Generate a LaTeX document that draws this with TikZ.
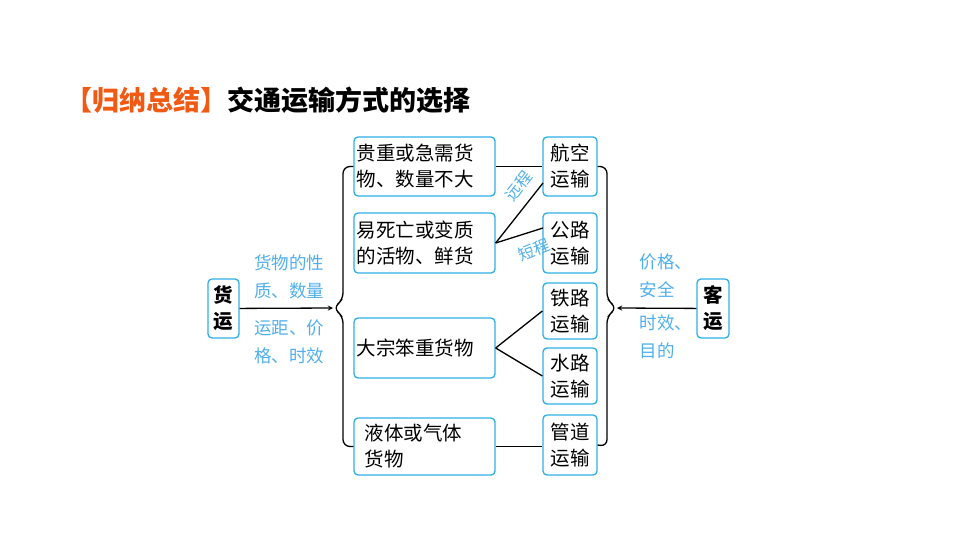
\documentclass[tikz,border=0pt]{standalone}
\usepackage{fontspec}
\setmainfont{Noto Sans CJK SC}
\usetikzlibrary{positioning}
\definecolor{boxline}{RGB}{45,175,230}
\definecolor{notecol}{RGB}{80,175,235}
\definecolor{titleor}{RGB}{240,90,20}

\begin{document}
\begin{tikzpicture}[x=1pt,y=-1pt,
    box/.style={draw=boxline, line width=1.3pt, rounded corners=4pt, align=left, inner sep=1pt, font=\fontsize{19.5}{26}\selectfont},
    note/.style={text=notecol, align=left, inner sep=0pt, font=\fontsize{17.5}{28}\selectfont},
    line/.style={line width=1.3pt},
    arrow/.style={->, >=stealth, line width=1.3pt}
]
\useasboundingbox (0,0) rectangle (960,540);

\node[anchor=west, font=\fontsize{27}{30}\selectfont\bfseries] (title) at (62,100)
  {\textcolor{titleor}{【归纳总结】}交通运输方式的选择};

% cargo boxes
\node[box, minimum width=141, minimum height=59, text width=136] (valuable) at (424.5,166.5) {贵重或急需货\\物、数量不大};
\node[box, minimum width=141, minimum height=60, text width=136] (fresh) at (424.5,243) {易死亡或变质\\的活物、鲜货};
\node[box, minimum width=141, minimum height=60, text width=136] (bulk) at (424.5,348) {大宗笨重货物};
\node[box, minimum width=141, minimum height=57, text width=120] (fluid) at (424.5,446.5) {液体或气体\\货物};

% transport modes
\node[box, minimum width=54, minimum height=59] (air) at (570,166.5) {航空\\运输};
\node[box, minimum width=54, minimum height=60] (road) at (570,243) {公路\\运输};
\node[box, minimum width=54, minimum height=56] (rail) at (570,311) {铁路\\运输};
\node[box, minimum width=54, minimum height=56] (water) at (570,376) {水路\\运输};
\node[box, minimum width=54, minimum height=60] (pipe) at (570,445) {管道\\运输};

\node[box, minimum width=31, minimum height=59, font=\fontsize{19.5}{26}\selectfont\bfseries] (freight) at (223.5,308.5) {货\\运};
\node[box, minimum width=32, minimum height=59, font=\fontsize{19.5}{26}\selectfont\bfseries] (passenger) at (713,308.5) {客\\运};

% braces
\coordinate (lp) at (333,308);
\coordinate (rp) at (617,308);
\draw[line, rounded corners=7pt] (valuable.west) -- (343,166.5) -- (343,300) -- (lp) -- (343,316) -- (343,446.5) -- (fluid.west);
\draw[line, rounded corners=7pt] (air.east) -- (607,166.5) -- (607,300) -- (rp) -- (607,316) -- (607,446.5) -- (pipe.east);

\draw[arrow] (freight) -- (lp);
\draw[arrow] (passenger) -- (rp);

\draw[line] (valuable.east) -- (air.west |- valuable.east);
\draw[line] (fresh.east) -- (543,183);
\draw[line] (fresh.east) -- (543,228);
\draw[line] (bulk.east) -- (rail.west);
\draw[line] (bulk.east) -- (water.west);
\draw[line] (fluid.east) -- (pipe.west |- fluid.east);

% notes
\node[note] (n1) at (289,277) {货物的性\\质、数量};
\node[note] (n2) at (289,342) {运距、价\\格、时效};
\node[note] (n3) at (666,276) {价格、\\安全};
\node[note] (n4) at (666,337) {时效、\\目的};
\node[note, rotate=52, font=\fontsize{16}{20}\selectfont] (far) at (519,186) {远程};
\node[note, rotate=22, font=\fontsize{16}{20}\selectfont] (near) at (534,250) {短程};
\end{tikzpicture}
\end{document}
